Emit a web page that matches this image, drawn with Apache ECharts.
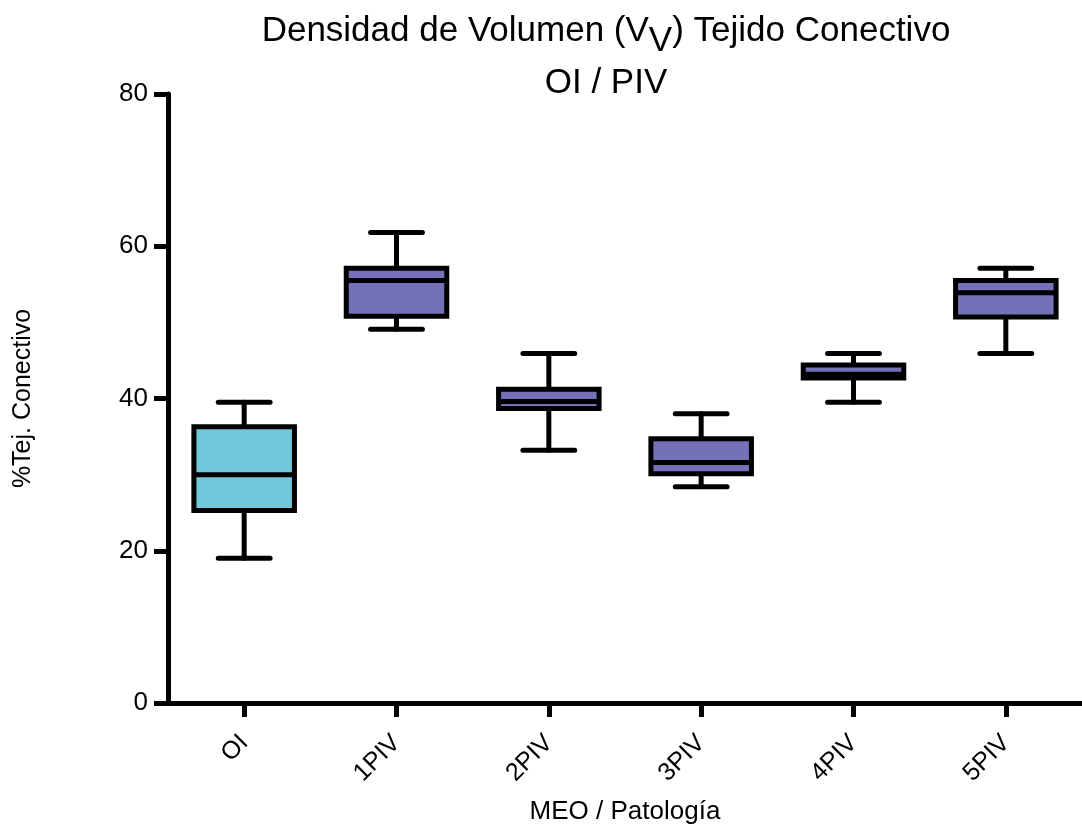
<!doctype html>
<html lang="es">
<head>
<meta charset="UTF-8">
<title>Densidad de Volumen Tejido Conectivo</title>
<script src="https://cdn.jsdelivr.net/npm/echarts@6/dist/echarts.min.js"></script>
<style>
  html, body { margin: 0; padding: 0; background: #fff; }
  #main { width: 1082px; height: 836px; }
</style>
</head>
<body>
<div id="main"></div>
<script>
// grupos
var categories = ['OI', '1PIV', '2PIV', '3PIV', '4PIV', '5PIV'];
// min, Q1, mediana, Q3, max (% tejido conectivo)
var whiskerMin = [19.0, 49.1, 33.2, 28.4, 39.5, 45.9];
var q1Values   = [25.3, 50.8, 38.7, 30.1, 42.7, 50.7];
var medians    = [30.0, 55.5, 39.6, 31.6, 43.2, 53.9];
var q3Values   = [36.3, 57.1, 41.2, 34.7, 44.4, 55.5];
var whiskerMax = [39.5, 61.8, 45.9, 38.0, 45.9, 57.1];
var yTicks = [0, 20, 40, 60, 80];

var fillOI = '#70c8da';
var fillPIV = '#7571b9';
var font = 'Liberation Sans';

var boxData = categories.map(function (c, i) {
    return [i, whiskerMin[i], q1Values[i], medians[i], q3Values[i], whiskerMax[i]];
});

function renderBox(params, api) {
    var idx = api.value(0);
    var band = api.size([1, 0])[0];
    var halfBox = band * 0.33;
    var halfCap = band * 0.17;
    var pMin = api.coord([idx, api.value(1)]);
    var pQ1 = api.coord([idx, api.value(2)]);
    var pMed = api.coord([idx, api.value(3)]);
    var pQ3 = api.coord([idx, api.value(4)]);
    var pMax = api.coord([idx, api.value(5)]);
    var cx = pMed[0];
    var lineStyle = { stroke: '#000', lineWidth: 5, lineCap: 'round' };
    return {
        type: 'group',
        children: [
            { type: 'line', shape: { x1: cx, y1: pMax[1], x2: cx, y2: pMin[1] }, style: lineStyle },
            { type: 'line', shape: { x1: cx - halfCap, y1: pMax[1], x2: cx + halfCap, y2: pMax[1] }, style: lineStyle },
            { type: 'line', shape: { x1: cx - halfCap, y1: pMin[1], x2: cx + halfCap, y2: pMin[1] }, style: lineStyle },
            {
                type: 'rect',
                shape: { x: cx - halfBox, y: pQ3[1], width: halfBox * 2, height: pQ1[1] - pQ3[1] },
                style: { fill: idx === 0 ? fillOI : fillPIV, stroke: '#000', lineWidth: 5 }
            },
            { type: 'line', shape: { x1: cx - halfBox, y1: pMed[1], x2: cx + halfBox, y2: pMed[1] },
              style: { stroke: '#000', lineWidth: 5 } }
        ]
    };
}

var myChart = echarts.init(document.getElementById('main'));

var option = {
    animation: false,
    title: {
        text: 'Densidad de Volumen (V{sub|V}) Tejido Conectivo\nOI / PIV',
        left: 601,
        textAlign: 'center',
        top: 0,
        textStyle: {
            fontFamily: font,
            fontWeight: 'normal',
            fontSize: 35,
            color: '#000',
            lineHeight: 52,
            rich: {
                sub: { fontFamily: font, fontSize: 35, lineHeight: 52, padding: [20, 0, 0, 0], color: '#000' }
            }
        }
    },
    grid: { left: 168, right: 0, top: 94, bottom: 133 },
    xAxis: {
        type: 'category',
        data: categories,
        name: 'MEO / Patología',
        nameLocation: 'middle',
        nameGap: 96,
        nameTextStyle: { fontFamily: font, fontSize: 26, color: '#000' },
        axisLine: { lineStyle: { color: '#000', width: 5 } },
        axisTick: { show: true, alignWithLabel: true, length: 14, lineStyle: { color: '#000', width: 5 } },
        axisLabel: { rotate: 45, margin: 36, fontFamily: font, fontSize: 25, color: '#000' },
        splitLine: { show: false }
    },
    yAxis: {
        type: 'value',
        min: yTicks[0],
        max: yTicks[yTicks.length - 1],
        interval: 20,
        name: '%Tej. Conectivo',
        nameLocation: 'middle',
        nameGap: 132,
        nameRotate: 90,
        nameTextStyle: { fontFamily: font, fontSize: 25, color: '#000' },
        axisLine: { show: true, lineStyle: { color: '#000', width: 5 } },
        axisTick: { show: true, length: 14, lineStyle: { color: '#000', width: 5 } },
        axisLabel: { margin: 20, fontFamily: font, fontSize: 26, color: '#000' },
        splitLine: { show: false }
    },
    series: [{
        type: 'custom',
        renderItem: renderBox,
        encode: { x: 0, y: [1, 2, 3, 4, 5] },
        data: boxData
    }]
};

myChart.setOption(option);
</script>
</body>
</html>
